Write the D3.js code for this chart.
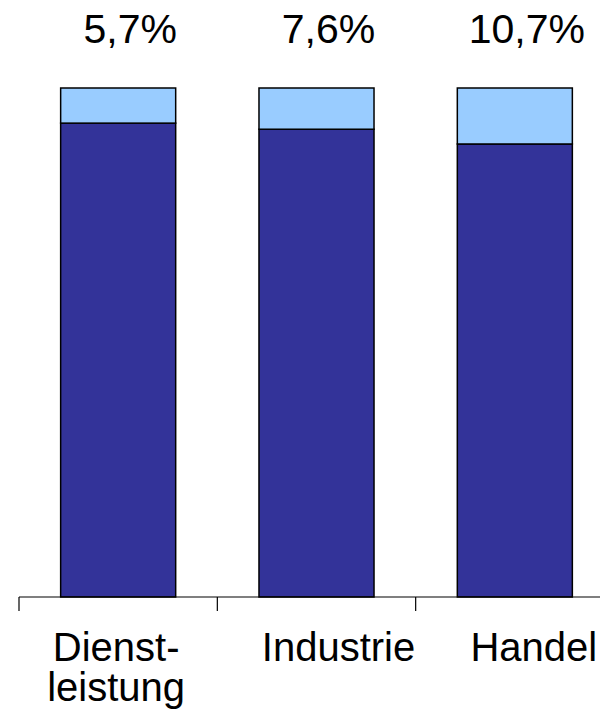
<!DOCTYPE html>
<html>
<head>
<meta charset="utf-8">
<script src="https://cdn.jsdelivr.net/npm/d3@7"></script>
<style>
	body { margin: 0; background: #fff; }
	text { font-family: Arial, "Liberation Sans", sans-serif; fill: #000; }
</style>
</head>
<body>
<svg id="chart" width="600" height="712"></svg>
<script>
// categories (first one wraps onto two lines)
var categories = ["Dienstleistung", "Industrie", "Handel"];
var categoryLines = [["Dienst-", "leistung"], ["Industrie"], ["Handel"]];
// stacked shares in percent
var baseShare = [93.1, 91.9, 89.0];
var topShare = [6.9, 8.1, 11.0];
// value labels as printed above the bars
var topLabels = ["5,7%", "7,6%", "10,7%"];

var svg = d3.select("#chart");

var axisY = 597,
	barTop = 88;

// band scale spans one extra (off-screen) slot so the tick spacing matches
var x = d3.scaleBand()
	.domain(categories)
	.range([19, 614])
	.paddingInner(0.42)
	.paddingOuter(0.21);

var y = d3.scaleLinear()
	.domain([0, 100])
	.range([axisY, barTop]);

var rows = categories.map(function(c, i) {
	return {cat: c, base: baseShare[i], top: topShare[i]};
});
var stack = d3.stack().keys(["base", "top"])(rows);
var fills = {base: "#333399", top: "#99CCFF"};

svg.selectAll("g.layer")
	.data(stack)
	.enter().append("g")
	.attr("class", "layer")
	.attr("fill", function(d) { return fills[d.key]; })
	.selectAll("rect")
	.data(function(d) { return d; })
	.enter().append("rect")
	.attr("x", function(d) { return x(d.data.cat); })
	.attr("width", x.bandwidth())
	.attr("y", function(d) { return y(d[1]); })
	.attr("height", function(d) { return y(d[0]) - y(d[1]); })
	.attr("stroke", "#000")
	.attr("stroke-width", 1.5);

// axis line + ticks at band boundaries
var gap = (x.step() - x.bandwidth()) / 2;
var tickXs = categories.map(function(c) { return x(c) - gap; });
svg.append("line")
	.attr("x1", 19).attr("x2", 600)
	.attr("y1", axisY).attr("y2", axisY)
	.attr("stroke", "#000").attr("stroke-width", 1.2);
svg.selectAll("line.tick")
	.data(tickXs)
	.enter().append("line")
	.attr("class", "tick")
	.attr("x1", function(d) { return d; }).attr("x2", function(d) { return d; })
	.attr("y1", axisY).attr("y2", axisY + 14)
	.attr("stroke", "#000").attr("stroke-width", 1.2);

// percentage labels above bars
svg.selectAll("text.val")
	.data(topLabels)
	.enter().append("text")
	.attr("class", "val")
	.attr("x", function(d, i) { return x(categories[i]) + x.bandwidth() / 2 + 12; })
	.attr("y", 43)
	.attr("text-anchor", "middle")
	.style("font-size", "41px")
	.text(function(d) { return d; });

// category labels (nudged like the original)
var nudge = [-2, 22, 19];
var cat = svg.selectAll("text.cat")
	.data(categoryLines)
	.enter().append("text")
	.attr("class", "cat")
	.attr("text-anchor", "middle")
	.attr("y", 661)
	.style("font-size", "40px");
cat.selectAll("tspan")
	.data(function(d, i) { return d.map(function(t) { return {t: t, i: i}; }); })
	.enter().append("tspan")
	.attr("x", function(d) { return x(categories[d.i]) + x.bandwidth() / 2 + nudge[d.i]; })
	.attr("dy", function(d, j) { return j === 0 ? 0 : 40; })
	.text(function(d) { return d.t; });
</script>
</body>
</html>
